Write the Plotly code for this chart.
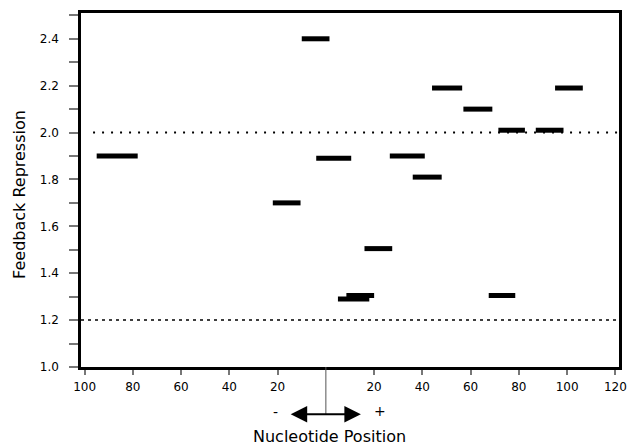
import plotly.graph_objects as go

# Data: horizontal segments (nucleotide position range, feedback repression value)
seg_start = [-95, -22, -10, -4, 5, 8.5, 16, 26.5, 36, 44, 57, 67.5, 71.5, 87, 95]
seg_end   = [-78, -10.5, 1.5, 10.5, 18, 20, 27.5, 41, 48, 56.5, 69, 78.5, 82.5, 98.5, 106.5]
seg_value = [1.90, 1.70, 2.40, 1.89, 1.29, 1.305, 1.505, 1.90, 1.81, 2.19, 2.10, 1.305, 2.01, 2.01, 2.19]

x_tickvals = [-100, -80, -60, -40, -20, 20, 40, 60, 80, 100, 120]
x_ticktext = ["100", "80", "60", "40", "20", "20", "40", "60", "80", "100", "120"]
y_tickvals = [1.0, 1.2, 1.4, 1.6, 1.8, 2.0, 2.2, 2.4]
y_ticktext = ["1.0", "1.2", "1.4", "1.6", "1.8", "2.0", "2.2", "2.4"]

upper_ref = 2.0
lower_ref = 1.2

FONT = "DejaVu Sans"

xs, ys = [], []
for a, b, v in zip(seg_start, seg_end, seg_value):
    xs += [a, b, None]
    ys += [v, v, None]

fig = go.Figure()
fig.add_trace(go.Scatter(x=[-96.5, 121.5], y=[upper_ref, upper_ref], mode="lines",
                         line=dict(color="black", width=2, dash="2px,7px"), hoverinfo="skip"))
fig.add_trace(go.Scatter(x=[-101.5, 121.5], y=[lower_ref, lower_ref], mode="lines",
                         line=dict(color="black", width=1.5, dash="3px,4px"), hoverinfo="skip"))
fig.add_trace(go.Scatter(x=xs, y=ys, mode="lines",
                         line=dict(color="black", width=5), hoverinfo="skip"))

# page has an 8px body margin, so the figure is shrunk by 8px and margins shifted
fig.update_layout(
    width=632, height=440,
    margin=dict(l=73, r=21, t=2, b=81),
    plot_bgcolor="white", paper_bgcolor="white",
    showlegend=False,
    font=dict(family=FONT, color="black", size=12),
)
fig.update_xaxes(
    range=[-101.5, 121.5], tickvals=x_tickvals, ticktext=x_ticktext,
    showgrid=False, zeroline=False, showline=True, linecolor="black", linewidth=2.5,
    mirror=True, ticks="outside", ticklen=5, tickcolor="#777", tickwidth=1.5,
    tickfont=dict(size=12, family=FONT), ticklabelstandoff=2,
)
fig.update_yaxes(
    range=[1.0, 2.51], tickvals=y_tickvals, ticktext=y_ticktext,
    showgrid=False, zeroline=False, showline=True, linecolor="black", linewidth=2.5,
    mirror=True, ticks="outside", ticklen=9, tickcolor="#777", tickwidth=1.5,
    tickfont=dict(size=12, family=FONT), ticklabelstandoff=8,
    minor=dict(tickvals=[1.1, 1.3, 1.5, 1.7, 1.9, 2.1, 2.3, 2.5], ticks="outside",
               ticklen=9, tickcolor="#777", tickwidth=1.5),
)

# y-axis title
fig.add_annotation(xref="paper", yref="paper", x=-0.1134, y=0.489, textangle=-90,
                   xanchor="center", yanchor="middle", text="Feedback Repression",
                   showarrow=False, font=dict(size=16, family=FONT))
# vertical line at zero below the axis
fig.add_shape(type="line", xref="x", yref="paper", x0=0, x1=0, y0=0, y1=-0.135,
              line=dict(color="#555", width=1))
# double arrow
fig.add_annotation(xref="x", yref="paper", axref="x", ayref="pixel",
                   x=14.5, y=-0.1335, ax=-15.2, ay=0, text="",
                   showarrow=True, arrowhead=2, startarrowhead=2, arrowside="end+start",
                   arrowsize=1.5, startarrowsize=1.5, arrowwidth=2.2, arrowcolor="black")
fig.add_annotation(xref="x", yref="paper", x=-20.8, y=-0.155, text="-", showarrow=False,
                   font=dict(size=14, family=FONT))
fig.add_annotation(xref="x", yref="paper", x=22.3, y=-0.152, text="+", showarrow=False,
                   font=dict(size=14, family=FONT))
fig.add_annotation(xref="x", yref="paper", x=1.7, y=-0.196, yanchor="middle",
                   text="Nucleotide Position", showarrow=False,
                   font=dict(size=16, family=FONT))

fig.write_html("out.html")
